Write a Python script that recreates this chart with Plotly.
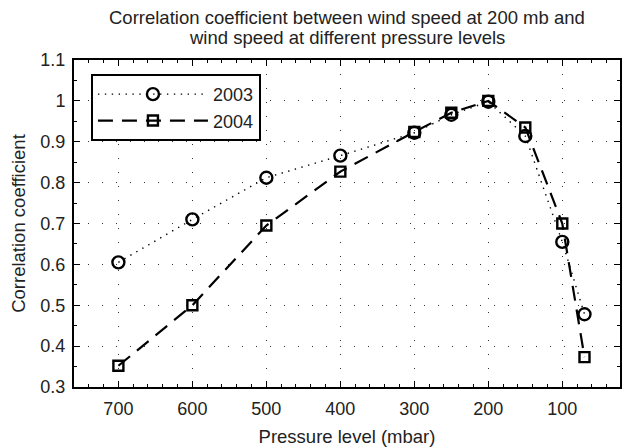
import plotly.graph_objects as go

pressure = [700, 600, 500, 400, 300, 250, 200, 150, 100, 70]
corr_2003 = [0.605, 0.710, 0.812, 0.866, 0.922, 0.966, 0.998, 0.914, 0.655, 0.478]
corr_2004 = [0.352, 0.500, 0.695, 0.827, 0.924, 0.971, 1.000, 0.935, 0.700, 0.373]
x_ticks = [700, 600, 500, 400, 300, 200, 100]
y_ticks = [0.3, 0.4, 0.5, 0.6, 0.7, 0.8, 0.9, 1.0, 1.1]
y_tick_text = ["0.3", "0.4", "0.5", "0.6", "0.7", "0.8", "0.9", "1", "1.1"]
title_lines = ["Correlation coefficient between wind speed at 200 mb and",
               "wind speed at different pressure levels"]

FONT = "Liberation Sans, Arial, Helvetica, sans-serif"
TXT = "#222"

fig = go.Figure()
fig.add_trace(go.Scatter(
    x=pressure, y=corr_2003, name="2003", mode="lines+markers",
    line=dict(color="black", width=1.4, dash="1.4px,5.5px"),
    marker=dict(symbol="circle-open", size=12, color="black", line=dict(width=2.4)),
))
fig.add_trace(go.Scatter(
    x=pressure, y=corr_2004, name="2004", mode="lines+markers",
    line=dict(color="black", width=2.2, dash="15px,9px"),
    marker=dict(symbol="square-open", size=10, color="black", line=dict(width=2.4)),
))

axis_common = dict(
    showline=True, linecolor="black", linewidth=2, mirror="allticks",
    ticks="inside", ticklen=6, tickwidth=1.2, tickcolor="black",
    showgrid=True, gridcolor="#333333", gridwidth=1, griddash="1px,13px",
    zeroline=False,
    tickfont=dict(family=FONT, size=18, color=TXT),
)

title_y_px = [17, 37]
annotations = [
    dict(text=t, xref="paper", yref="paper", x=0.5, y=1 + (60 - yp) / 328,
         xanchor="center", yanchor="middle", showarrow=False,
         font=dict(family=FONT, size=18.5, color=TXT))
    for t, yp in zip(title_lines, title_y_px)
]

fig.update_layout(
    width=623, height=447,
    margin=dict(l=74, r=1, t=60, b=60),
    paper_bgcolor="white", plot_bgcolor="white",
    xaxis=dict(
        range=[760, 22], tickvals=x_ticks, ticklabelstandoff=4,
        minor=dict(ticks="inside", ticklen=3, dtick=20, tick0=0, tickcolor="black", showgrid=False),
        title=dict(text="Pressure level (mbar)", font=dict(family=FONT, size=18.5, color=TXT), standoff=14),
        **axis_common,
    ),
    yaxis=dict(
        range=[0.3, 1.1], tickvals=y_ticks, ticktext=y_tick_text, ticklabelstandoff=3,
        minor=dict(ticks="inside", ticklen=3, dtick=0.05, tick0=0.3, tickcolor="black", showgrid=False),
        title=dict(text="Correlation coefficient", font=dict(family=FONT, size=18.5, color=TXT), standoff=10),
        **axis_common,
    ),
    legend=dict(
        x=(91 - 74) / 548, y=1 - (74 - 60) / 328, xanchor="left", yanchor="top",
        bgcolor="white", bordercolor="black", borderwidth=2,
        font=dict(family=FONT, size=18, color=TXT),
        itemwidth=110, tracegroupgap=0,
    ),
    showlegend=True,
    annotations=annotations,
)

fig.write_html("out.html")
